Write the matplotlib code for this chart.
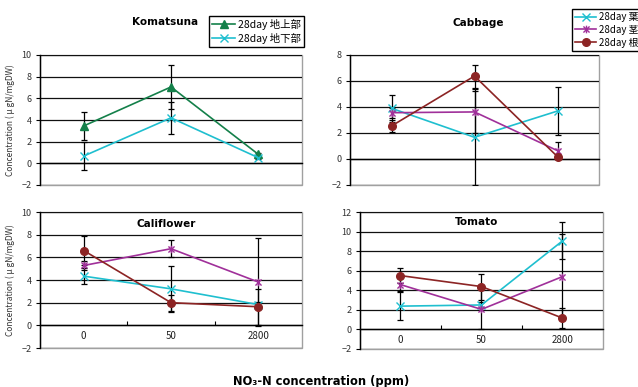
import matplotlib
matplotlib.use("Agg")
import matplotlib.pyplot as plt
from matplotlib.lines import Line2D
from matplotlib.path import Path

plt.rcParams['font.family'] = ['Noto Sans CJK JP', 'DejaVu Sans']

# ---- data -------------------------------------------------------------
categories = ['0', '50', '2800']

komatsuna_above = [3.45, 7.05, 0.83]
komatsuna_above_err = [1.25, 2.0, 0.1]
komatsuna_below = [0.67, 4.2, 0.52]
komatsuna_below_err = [1.3, 1.45, 0.1]

cabbage_leaf = [3.9, 1.67, 3.69]
cabbage_leaf_err = [1.05, 3.7, 1.85]
cabbage_stem = [3.56, 3.62, 0.64]
cabbage_stem_err = [0.4, 1.6, 0.64]
cabbage_root = [2.54, 6.38, 0.18]
cabbage_root_err = [0.45, 0.88, 0.1]

cauli_leaf = [4.34, 3.22, 1.83]
cauli_leaf_err = [0.7, 2.0, 0.2]
cauli_stem = [5.28, 6.76, 3.82]
cauli_stem_err = [0.4, 0.75, 3.85]
cauli_root = [6.6, 2.0, 1.64]
cauli_root_err = [1.3, 0.7, 1.6]

tomato_leaf = [2.38, 2.5, 9.05]
tomato_leaf_err = [1.45, 0.3, 1.9]
tomato_stem = [4.58, 2.05, 5.4]
tomato_stem_err = [0.7, 2.0, 4.4]
tomato_root = [5.5, 4.38, 1.16]
tomato_root_err = [0.8, 1.33, 1.05]

# ---- styles -------------------------------------------------------------
asterisk = Path([(-1, -1), (1, 1), (-1, 1), (1, -1), (0, -1.25), (0, 1.25)],
                [Path.MOVETO, Path.LINETO, Path.MOVETO, Path.LINETO,
                 Path.MOVETO, Path.LINETO])

STY = {
    'above': dict(color='#14804a', marker='^', ms=5.5, mfc='#14804a'),
    'below': dict(color='#1fbfcf', marker='x', ms=5.5, mfc='none'),
    'leaf': dict(color='#1fbfcf', marker='x', ms=5.5, mfc='none'),
    'stem': dict(color='#a0309a', marker=asterisk, ms=5.5, mfc='none'),
    'root': dict(color='#8c2424', marker='o', ms=5.5, mfc='#8c2424'),
}

W, H = 638, 387
fig = plt.figure(figsize=(W / 100, H / 100), dpi=100)


def make_axes(l, t, r, b, ymin, ymax, show_x):
    ax = fig.add_axes([l / W, 1 - b / H, (r - l) / W, (b - t) / H])
    ax.set_xlim(-0.5, 2.5)
    ax.set_ylim(ymin, ymax)
    ax.set_yticks(range(ymin, ymax + 1, 2))
    ax.set_yticklabels([f'{v}' if v >= 0 else f'\u2212{-v}' for v in range(ymin, ymax + 1, 2)])
    ax.yaxis.grid(True, color='#111111', linewidth=0.9)
    ax.set_axisbelow(True)
    ax.patch.set_edgecolor('#a0a0a0')
    ax.patch.set_linewidth(1.0)
    for s in ('top', 'right'):
        ax.spines[s].set_visible(False)
    ax.spines['left'].set_color('black')
    ax.spines['left'].set_linewidth(1.0)
    ax.spines['bottom'].set_position(('data', 0))
    ax.spines['bottom'].set_color('black')
    ax.spines['bottom'].set_linewidth(1.0)
    ax.tick_params(axis='y', direction='out', length=3, width=0.8,
                   labelsize=6.5, labelcolor='#333333', pad=3)
    if show_x:
        ax.set_xticks(range(len(categories)))
        ax.set_xticklabels(categories)
        ax.set_xticks([0.5, 1.5], minor=True)
        ax.tick_params(axis='x', which='major', length=0, labelsize=7,
                       labelcolor='#222222', pad=4)
        ax.tick_params(axis='x', which='minor', direction='in', length=3,
                       width=0.8)
    else:
        ax.set_xticks([])
    return ax


def draw(ax, values, errs, key):
    x = range(len(values))
    st = STY[key]
    ax.errorbar(x, values, yerr=errs, fmt='none', ecolor='black',
                elinewidth=0.9, capsize=2.5, capthick=0.9, zorder=3)
    ax.plot(x, values, color=st['color'], lw=1.2, marker=st['marker'],
            ms=st['ms'], mfc=st['mfc'], mec=st['color'], mew=1.0, zorder=4)


def handle(key):
    st = STY[key]
    return Line2D([], [], color=st['color'], lw=1.2, marker=st['marker'],
                  ms=st['ms'], mfc=st['mfc'], mec=st['color'], mew=1.0)


ylab = 'Concentration ( \u03bc gN/mgDW)'

# Komatsuna
ax1 = make_axes(40, 55, 302, 185, -2, 10, False)
draw(ax1, komatsuna_above, komatsuna_above_err, 'above')
draw(ax1, komatsuna_below, komatsuna_below_err, 'below')
ax1.set_ylabel(ylab, fontsize=6, color='#333333', labelpad=5)
fig.text(165 / W, 1 - 22 / H, 'Komatsuna', ha='center', va='center',
         fontsize=7.5, fontweight='bold', family='DejaVu Sans')
fig.legend([handle('above'), handle('below')],
           ['28day 地上部', '28day 地下部'],
           loc='upper left', bbox_to_anchor=(209 / W, 1 - 16 / H),
           fontsize=7.5, frameon=True, fancybox=False, edgecolor='black',
           framealpha=1, handlelength=2.2, handletextpad=0.3,
           borderpad=0.3, labelspacing=0.25, borderaxespad=0)

# Cabbage
ax2 = make_axes(350, 55, 599, 185, -2, 8, False)
draw(ax2, cabbage_leaf, cabbage_leaf_err, 'leaf')
draw(ax2, cabbage_stem, cabbage_stem_err, 'stem')
draw(ax2, cabbage_root, cabbage_root_err, 'root')
fig.text(478 / W, 1 - 23 / H, 'Cabbage', ha='center', va='center',
         fontsize=7.5, fontweight='bold', family='DejaVu Sans')
fig.legend([handle('leaf'), handle('stem'), handle('root')],
           ['28day 葉', '28day 茎', '28day 根'],
           loc='upper left', bbox_to_anchor=(572 / W, 1 - 9 / H),
           fontsize=7, frameon=True, fancybox=False, edgecolor='black',
           framealpha=1, handlelength=2.2, handletextpad=0.3,
           borderpad=0.3, labelspacing=0.3, borderaxespad=0)

# Califlower
ax3 = make_axes(40, 212, 302, 348, -2, 10, True)
draw(ax3, cauli_leaf, cauli_leaf_err, 'leaf')
draw(ax3, cauli_stem, cauli_stem_err, 'stem')
draw(ax3, cauli_root, cauli_root_err, 'root')
ax3.set_ylabel(ylab, fontsize=6, color='#333333', labelpad=5)
ax3.text(0.48, 0.91, 'Califlower', transform=ax3.transAxes, ha='center',
         va='center', fontsize=7.5, fontweight='bold', family='DejaVu Sans')

# Tomato
ax4 = make_axes(360, 212, 603, 349, -2, 12, True)
draw(ax4, tomato_leaf, tomato_leaf_err, 'leaf')
draw(ax4, tomato_stem, tomato_stem_err, 'stem')
draw(ax4, tomato_root, tomato_root_err, 'root')
ax4.text(0.48, 0.93, 'Tomato', transform=ax4.transAxes, ha='center',
         va='center', fontsize=7.5, fontweight='bold', family='DejaVu Sans')

fig.text(321 / W, 1 - 381 / H, 'NO\u2083-N concentration (ppm)', ha='center',
         va='center', fontsize=8.3, fontweight='bold',
         family=['DejaVu Sans', 'Noto Sans CJK JP'])

fig.savefig('out.png', dpi=100)
